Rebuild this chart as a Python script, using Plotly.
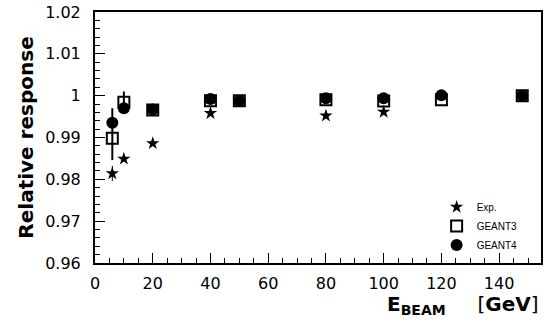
import plotly.graph_objects as go

# Data
exp_x = [6, 10, 20, 40, 80, 100]
exp_y = [0.9814, 0.9849, 0.9886, 0.9958, 0.9952, 0.9961]
exp_err = [0.0018, 0.0, 0.0, 0.0, 0.0, 0.0]

g3_x = [6, 10, 20, 40, 50, 80, 100, 120, 148]
g3_y = [0.9898, 0.9984, 0.9966, 0.9988, 0.9988, 0.9990, 0.9987, 0.9990, 1.0000]
g3_err_plus = [0.0072, 0.0026, 0.0, 0.0, 0.0, 0.0, 0.0, 0.0, 0.0]
g3_err_minus = [0.0052, 0.0026, 0.0, 0.0, 0.0, 0.0, 0.0, 0.0, 0.0]

g4_x = [6, 10, 20, 40, 50, 80, 100, 120, 148]
g4_y = [0.9935, 0.9970, 0.9967, 0.9992, 0.9988, 0.9994, 0.9994, 1.0001, 1.0000]

x_range = [0, 154.5]
y_range = [0.96, 1.02]

fig = go.Figure()
fig.add_trace(go.Scatter(
    x=exp_x, y=exp_y, mode="markers", name="Exp.",
    marker=dict(symbol="star", size=10, color="black"),
    error_y=dict(type="data", array=exp_err, color="black", thickness=1, width=0),
))
fig.add_trace(go.Scatter(
    x=g3_x, y=g3_y, mode="markers", name="GEANT3",
    marker=dict(symbol="square-open", size=11, color="black", line=dict(width=2, color="black")),
    error_y=dict(type="data", symmetric=False, array=g3_err_plus, arrayminus=g3_err_minus,
                 color="black", thickness=2, width=0),
))
fig.add_trace(go.Scatter(
    x=g4_x, y=g4_y, mode="markers", name="GEANT4",
    marker=dict(symbol="circle", size=12, color="black"),
))

axis_common = dict(
    showgrid=False, zeroline=False, showline=True, linecolor="black", linewidth=2,
    mirror=True, ticks="inside", tickcolor="black", tickwidth=1, ticklen=10,
    tickfont=dict(family="DejaVu Sans", size=16, color="black"),
)

fig.update_xaxes(range=x_range, dtick=20, tick0=0, ticklabelstandoff=5,
                 minor=dict(dtick=5, ticks="inside", ticklen=5, tickcolor="black", tickwidth=1),
                 **axis_common)
fig.update_yaxes(range=y_range, dtick=0.01, tick0=0.96, ticklabelstandoff=9,
                 minor=dict(dtick=0.002, ticks="inside", ticklen=5, tickcolor="black", tickwidth=1),
                 title=dict(text="<b>Relative response</b>",
                            font=dict(family="DejaVu Sans", size=20, color="black"),
                            standoff=6),
                 **axis_common)

fig.add_annotation(
    xref="paper", yref="paper", x=0.652, y=-0.112, xanchor="left", yanchor="top",
    showarrow=False, borderpad=0,
    text="<b>E<sub>BEAM</sub></b>\u00a0\u00a0\u00a0\u00a0\u00a0[<b>GeV</b>]",
    font=dict(family="DejaVu Sans", size=20, color="black"),
)

fig.update_layout(
    width=544, height=329,
    margin=dict(l=95, r=1, t=12, b=66),
    paper_bgcolor="white", plot_bgcolor="white",
    showlegend=True,
    legend=dict(x=0.766, y=0.014, xanchor="left", yanchor="bottom",
                bgcolor="rgba(0,0,0,0)",
                font=dict(family="Liberation Sans", size=10, color="black")),
)

fig.write_html("out.html", config={"displayModeBar": False},
               post_script="document.body.style.margin='0';")
